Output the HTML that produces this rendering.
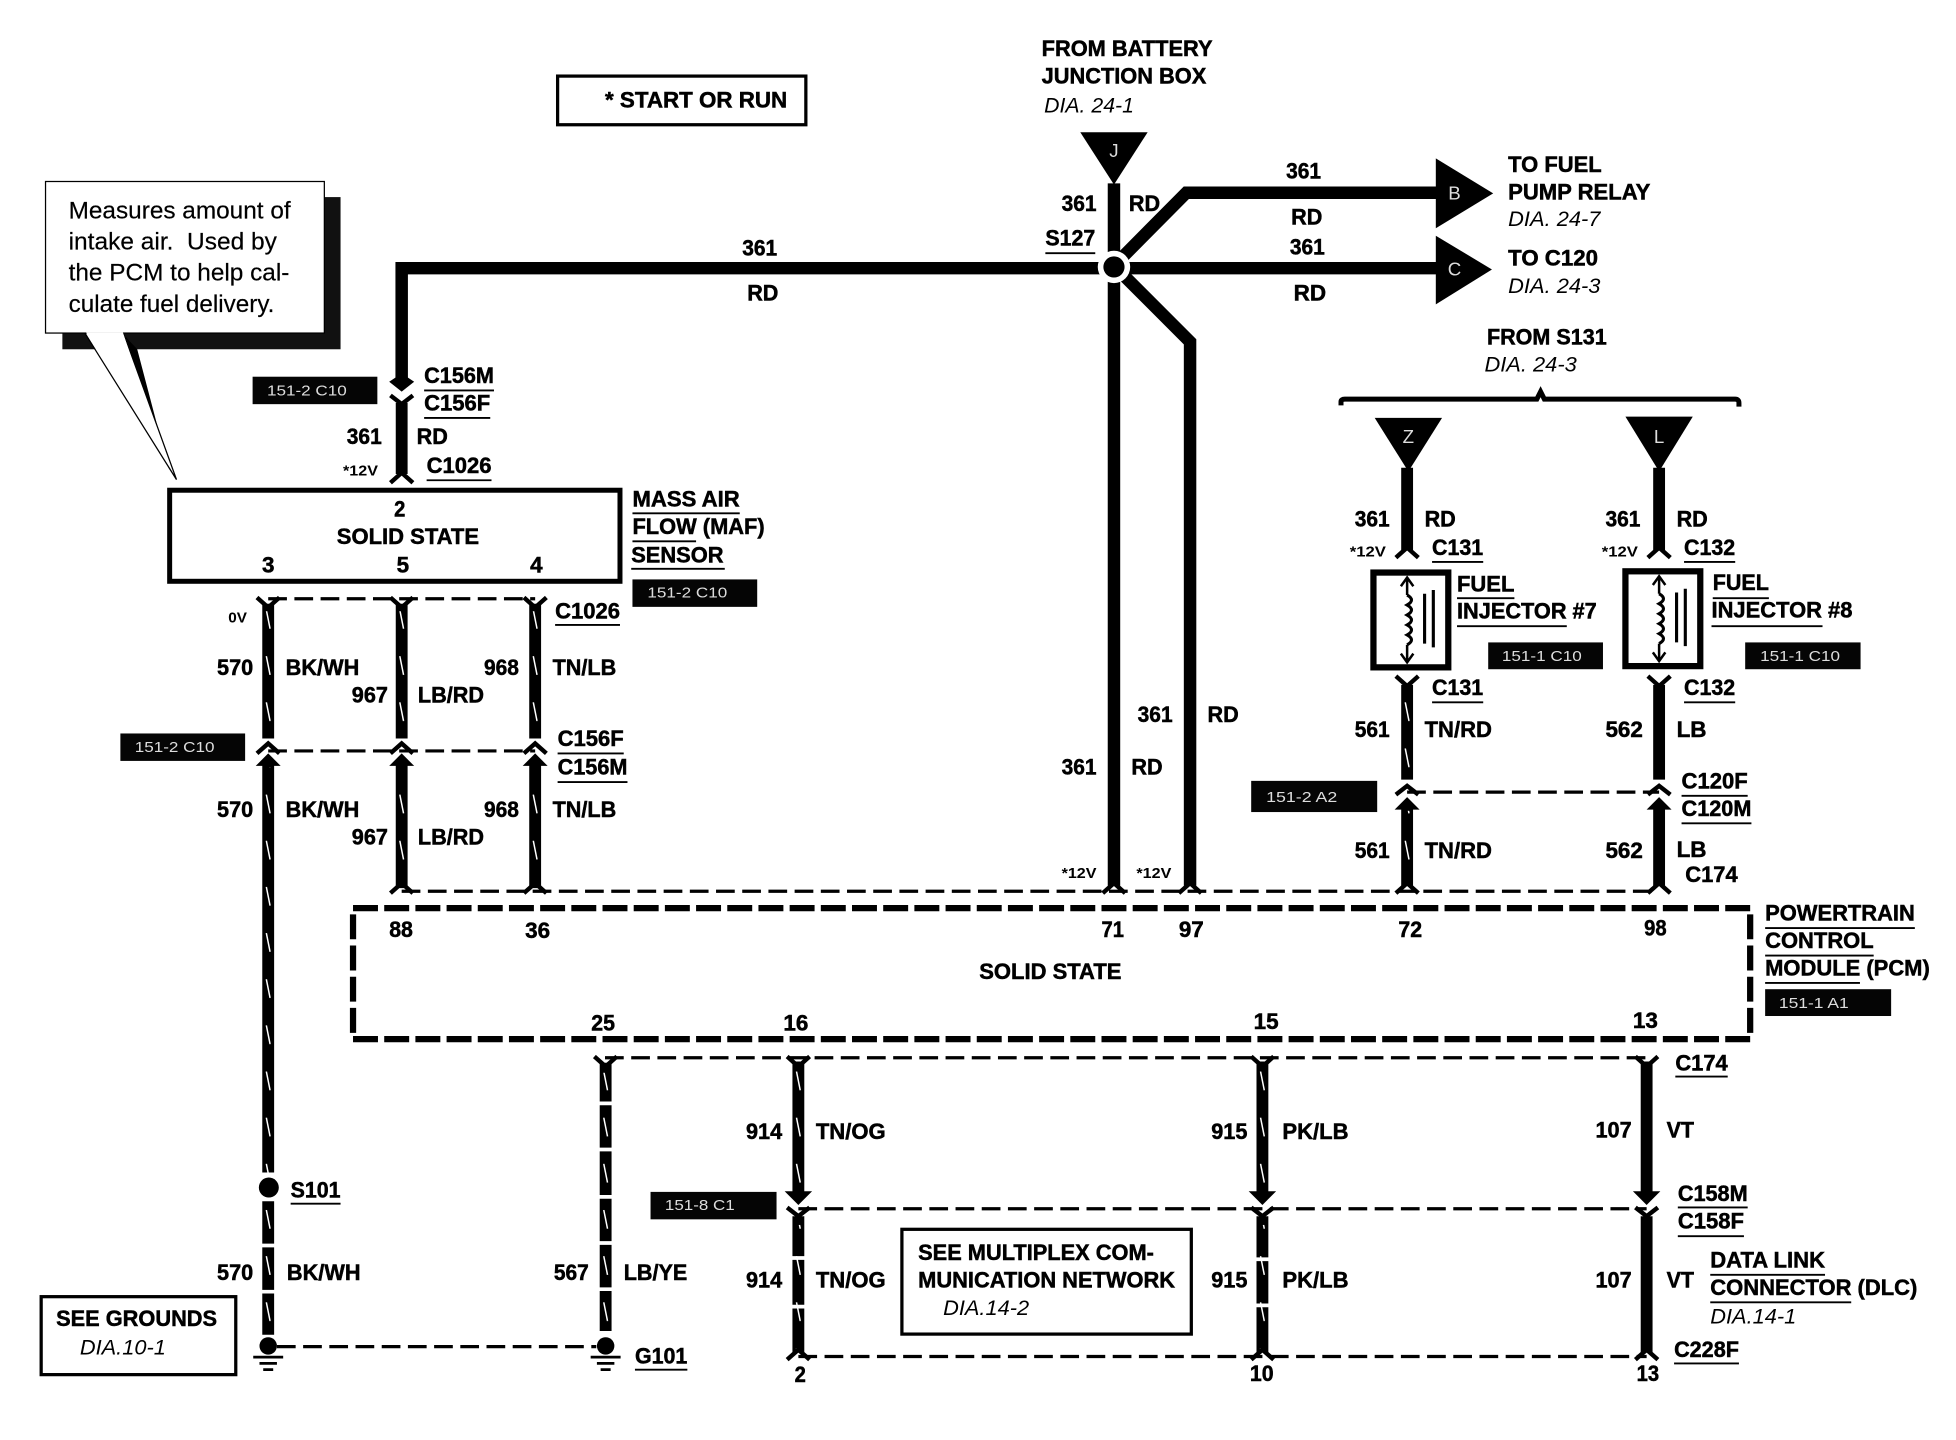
<!DOCTYPE html>
<html><head><meta charset="utf-8"><title>Wiring diagram</title>
<style>
html,body{margin:0;padding:0;background:#fff;width:1956px;height:1440px;overflow:hidden}
svg{display:block}
text{font-family:"Liberation Sans",sans-serif;fill:#000}
.b{font-weight:700;font-size:17.5px;stroke:#000;stroke-width:.4}
.i{font-style:italic;font-size:17px}
.s{font-weight:700;font-size:12px}
.n{font-size:19.5px;stroke:#000;stroke-width:.15}
.g{fill:#ddd;font-size:12px}
.w{fill:#ddd;font-size:15px;text-anchor:middle}
.u{stroke:#000;stroke-width:1.5;fill:none}
.wr{stroke:#000;stroke-width:9.5;fill:none}
.d{stroke:#000;stroke-width:2.6;fill:none;stroke-dasharray:15 6}
</style></head><body>
<svg width="1956" height="1440" viewBox="0 0 1568 1154.4" preserveAspectRatio="none" xmlns="http://www.w3.org/2000/svg">
<defs>
<path id="yT" d="M-9,-3 L0,5 L9,-3" fill="none" stroke="#000" stroke-width="3.5"/>
<path id="yB" d="M-9,3 L0,-5 L9,3" fill="none" stroke="#000" stroke-width="3.5"/>
<g id="con"><polygon points="-10,-10 0,-2 10,-10 4,-14 -4,-14" fill="#000"/><path d="M-9,1 L0,8 L9,1" fill="none" stroke="#000" stroke-width="3.5"/></g>
<g id="gnd"><circle cx="0" cy="0" r="7" fill="#000"/><path d="M-12,9 H12 M-7,14 H7 M-4,19 H4" stroke="#000" stroke-width="2.2" fill="none"/></g>
<g id="inj"><rect x="0" y="0" width="60" height="76" fill="#fff" stroke="#000" stroke-width="5"/>
<path d="M27,5 V18 M27,58 V72 M22,11 L27,4 L32,11 M22,65 L27,72 L32,65" fill="none" stroke="#000" stroke-width="2"/>
<path d="M27,18 q7,4 0,8 q7,4 0,8 q7,4 0,8 q7,4 0,8 q7,4 0,8" fill="none" stroke="#000" stroke-width="2.5"/>
<path d="M41,17 V57 M48,14 V60" stroke="#000" stroke-width="2.5" fill="none"/></g>
<pattern id="sl" patternUnits="userSpaceOnUse" x="0" y="8" width="1568" height="37">
<path d="M213.5,0 l3,15 M320.5,0 l3,15 M427.5,0 l3,15 M484,0 l3,15 M638.5,0 l3,15 M1010.5,0 l3,15 M1126.5,0 l3,15" stroke="#fff" stroke-width="1.2" fill="none"/>
</pattern>
</defs>
<rect width="1568" height="1155" fill="#fff"/>

<!-- START box -->
<rect x="447" y="61" width="199" height="39" fill="none" stroke="#000" stroke-width="2.6"/>
<text class="b" x="485" y="86" textLength="146" lengthAdjust="spacingAndGlyphs">* START OR RUN</text>

<!-- callout -->
<rect x="50" y="158" width="223" height="122" fill="#111"/>
<polygon points="98,267 110,280 135,375 141,384" fill="#000"/>
<polygon points="68,266 99,266 141,384" fill="#fff"/>
<path d="M68,267 L141.5,384.5 M99,267 L141.5,384.5" stroke="#000" stroke-width="1" fill="none"/>
<rect x="36.5" y="145.5" width="223.5" height="121.5" fill="#fff" stroke="#000" stroke-width="1"/>
<polygon points="69,266.5 98.5,266.5 120,330 105,320" fill="#fff"/>
<text class="n" x="55" y="175" textLength="178" lengthAdjust="spacingAndGlyphs">Measures amount of</text>
<text class="n" x="55" y="200" textLength="167" lengthAdjust="spacingAndGlyphs" xml:space="preserve">intake air.  Used by</text>
<text class="n" x="55" y="225" textLength="177" lengthAdjust="spacingAndGlyphs">the PCM to help cal-</text>
<text class="n" x="55" y="250" textLength="165" lengthAdjust="spacingAndGlyphs">culate fuel delivery.</text>

<!-- main thick wires -->
<path class="wr" d="M322,305 V215 H893" style="stroke-width:10"/>
<path class="wr" d="M893,147 V710" style="stroke-width:10"/>
<path class="wr" d="M893,213 L951,154.5 H1155" style="stroke-width:10"/>
<path class="wr" d="M893,215 H1155" style="stroke-width:10"/>
<path class="wr" d="M893,213 L954,274 V710" style="stroke-width:10"/>
<circle cx="893" cy="214" r="13" fill="#fff"/><circle cx="893" cy="214" r="8.5" fill="#000"/>
<polygon points="866,106 920,106 893,148" fill="#000"/>
<text class="w" x="893" y="126">J</text>
<polygon points="1151,127 1197,155 1151,183" fill="#000"/>
<text class="w" x="1166" y="160">B</text>
<polygon points="1151,189 1196,216 1151,244" fill="#000"/>
<text class="w" x="1166" y="221">C</text>
<use href="#yB" x="893" y="713"/><use href="#yB" x="954" y="713"/>

<!-- MAF -->
<use href="#con" x="322" y="316"/>
<path class="wr" d="M322,323 V380"/>
<use href="#yB" x="322" y="384"/>
<rect x="136" y="393" width="361" height="73" fill="#fff" stroke="#000" stroke-width="4"/>

<path class="d" d="M215,480 H429"/>
<path class="wr" d="M215,484 V592 M322,484 V592 M429,484 V592"/>
<g fill="url(#sl)"><rect x="210" y="490" width="10" height="102"/><rect x="317" y="490" width="10" height="102"/><rect x="424" y="490" width="10" height="102"/></g>
<use href="#yT" x="215" y="482"/><use href="#yT" x="322" y="482"/><use href="#yT" x="429" y="482"/>
<path class="d" d="M215,602 H429"/>
<g transform="translate(215,601)"><path d="M-9,3 L0,-5 L9,3" fill="none" stroke="#000" stroke-width="3.5"/></g>
<g transform="translate(322,601)"><path d="M-9,3 L0,-5 L9,3" fill="none" stroke="#000" stroke-width="3.5"/></g>
<g transform="translate(429,601)"><path d="M-9,3 L0,-5 L9,3" fill="none" stroke="#000" stroke-width="3.5"/></g>
<polygon points="215,604 205,614 225,614" fill="#000"/><polygon points="322,604 312,614 332,614" fill="#000"/><polygon points="429,604 419,614 439,614" fill="#000"/>
<path class="wr" d="M215,610 V940 M322,610 V712 M429,610 V712"/>
<g fill="url(#sl)"><rect x="210" y="615" width="10" height="325"/><rect x="317" y="620" width="10" height="90"/><rect x="424" y="620" width="10" height="90"/></g>
<use href="#yB" x="322" y="713"/><use href="#yB" x="429" y="713"/>

<circle cx="215.5" cy="952" r="8" fill="#000"/>
<path class="wr" d="M215,963 V997 M215,1000 V1034 M215,1037 V1070"/>
<rect x="210" y="967" width="10" height="103" fill="url(#sl)"/>
<use href="#gnd" x="215" y="1079"/>
<path class="d" d="M222,1079.5 H478"/>
<path class="wr" d="M485.5,852 V883 M485.5,886 V920 M485.5,923 V958 M485.5,961 V995 M485.5,998 V1032 M485.5,1035 V1067"/>
<rect x="480" y="860" width="11" height="205" fill="url(#sl)"/>
<use href="#yT" x="485.5" y="850"/>
<use href="#gnd" x="485.5" y="1079"/>

<!-- PCM box -->
<rect x="283" y="728" width="1120" height="105" fill="none" stroke="#000" stroke-width="5" stroke-dasharray="20 5"/>
<path class="d" d="M322,714.5 H1330"/>
<path class="d" d="M485,848 H1320"/>
<path class="d" d="M640,969 H1320"/>
<path class="d" d="M640,1087.5 H1320"/>
<path class="d" d="M1128,635 H1330"/>

<!-- lower wires -->
<path class="wr" d="M640,851 V957 M1012,851 V957 M1320,851 V957"/>
<g fill="url(#sl)"><rect x="635" y="858" width="10" height="97"/><rect x="1007" y="858" width="10" height="97"/></g>
<use href="#yT" x="640" y="850"/><use href="#yT" x="1012" y="850"/><use href="#yT" x="1320" y="850"/>
<polygon points="640,966 629,955 651,955" fill="#000"/><polygon points="1012,966 1001,955 1023,955" fill="#000"/><polygon points="1320,966 1309,955 1331,955" fill="#000"/>
<path d="M631,968 L640,975 L649,968 M1003,968 L1012,975 L1021,968 M1311,968 L1320,975 L1329,968" fill="none" stroke="#000" stroke-width="3.5"/>
<path class="wr" d="M640,975 V1007 M640,1010 V1046 M640,1049 V1084 M1012,975 V1008 M1012,1011 V1045 M1012,1048 V1084 M1320,975 V1084"/>
<g fill="url(#sl)"><rect x="635" y="982" width="10" height="100"/><rect x="1007" y="982" width="10" height="100"/></g>
<use href="#yB" x="640" y="1087"/><use href="#yB" x="1012" y="1087"/><use href="#yB" x="1320" y="1087"/>

<!-- injector side -->
<path d="M1075,325 V322 Q1075,320 1078,320 H1232 L1235,314 L1238,320 H1391 Q1394,320 1394,323 V326" fill="none" stroke="#000" stroke-width="4"/>
<polygon points="1102,335 1156,335 1129,378" fill="#000"/>
<text class="w" x="1129" y="355">Z</text>
<polygon points="1303,334 1357,334 1330,378" fill="#000"/>
<text class="w" x="1330" y="355">L</text>
<path class="wr" d="M1128,375 V441 M1330,375 V441"/>
<use href="#yB" x="1128" y="444"/><use href="#yB" x="1330" y="444"/>
<use href="#inj" x="1101" y="459"/>
<use href="#inj" x="1303" y="458"/>
<use href="#yT" x="1128" y="545"/><use href="#yT" x="1330" y="545"/>
<path class="wr" d="M1128,549 V625 M1330,549 V625"/>
<rect x="1123" y="560" width="10" height="65" fill="url(#sl)"/>
<path d="M1119,637 L1128,630 L1137,637 M1321,637 L1330,630 L1339,637" fill="none" stroke="#000" stroke-width="3.5"/>
<polygon points="1128,639 1118,649 1138,649" fill="#000"/><polygon points="1330,639 1320,649 1340,649" fill="#000"/>
<path class="wr" d="M1128,645 V710 M1330,645 V710"/>
<rect x="1123" y="650" width="10" height="58" fill="url(#sl)"/>
<use href="#yB" x="1128" y="713"/><use href="#yB" x="1330" y="713"/>

<!-- black tags -->
<g fill="#050505">
<rect x="202.5" y="302" width="100" height="22"/>
<rect x="507" y="464.5" width="100" height="22"/>
<rect x="96.5" y="588" width="100" height="22"/>
<rect x="521.5" y="955.5" width="101" height="22"/>
<rect x="1003" y="626" width="101" height="25"/>
<rect x="1193" y="515" width="92" height="21.5"/>
<rect x="1399" y="515" width="92.5" height="21.5"/>
<rect x="1415" y="793" width="101" height="21.5"/>
</g>
<text class="g" x="214" y="317" textLength="64" lengthAdjust="spacingAndGlyphs">151-2 C10</text>
<text class="g" x="519" y="479" textLength="64" lengthAdjust="spacingAndGlyphs">151-2 C10</text>
<text class="g" x="108" y="603" textLength="64" lengthAdjust="spacingAndGlyphs">151-2 C10</text>
<text class="g" x="533" y="970" textLength="56" lengthAdjust="spacingAndGlyphs">151-8 C1</text>
<text class="g" x="1015" y="643" textLength="57" lengthAdjust="spacingAndGlyphs">151-2 A2</text>
<text class="g" x="1204" y="530" textLength="64" lengthAdjust="spacingAndGlyphs">151-1 C10</text>
<text class="g" x="1411" y="530" textLength="64" lengthAdjust="spacingAndGlyphs">151-1 C10</text>
<text class="g" x="1426" y="808" textLength="56" lengthAdjust="spacingAndGlyphs">151-1 A1</text>

<!-- underlines -->
<path class="u" d="M340,313 H396 M340,335 H393 M342,385 H394 M507,411.5 H593 M507,434 H558 M506,456 H581 M445,501 H497 M447,604 H500 M447,627 H503 M838,203 H878 M1148,450.5 H1189 M1350,450.5 H1391 M1168,479.5 H1214 M1168,502 H1256 M1373,479.5 H1418 M1372,502 H1461 M1148,563 H1189 M1350,563 H1391 M1348,638 H1401 M1348,660 H1404 M1415,744 H1535 M1415,766 H1502 M1415,788 H1491 M1343,863 H1385 M1345,968 H1401 M1345,991 H1398 M1371,1022 H1463 M1371,1044 H1484 M1342,1093 H1394 M233,965 H273 M509,1098 H551"/>

<!-- labels -->
<text class="b" x="835" y="45" textLength="137" lengthAdjust="spacingAndGlyphs">FROM BATTERY</text>
<text class="b" x="835" y="67" textLength="132" lengthAdjust="spacingAndGlyphs">JUNCTION BOX</text>
<text class="i" x="837" y="90" textLength="72" lengthAdjust="spacingAndGlyphs">DIA. 24-1</text>
<text class="b" x="1209" y="138" textLength="75" lengthAdjust="spacingAndGlyphs">TO FUEL</text>
<text class="b" x="1209" y="160" textLength="114" lengthAdjust="spacingAndGlyphs">PUMP RELAY</text>
<text class="i" x="1209" y="181" textLength="74" lengthAdjust="spacingAndGlyphs">DIA. 24-7</text>
<text class="b" x="1209" y="213" textLength="72" lengthAdjust="spacingAndGlyphs">TO C120</text>
<text class="i" x="1209" y="235" textLength="74" lengthAdjust="spacingAndGlyphs">DIA. 24-3</text>
<text class="b" x="1031" y="143" textLength="28" lengthAdjust="spacingAndGlyphs">361</text>
<text class="b" x="1035" y="180" textLength="25" lengthAdjust="spacingAndGlyphs">RD</text>
<text class="b" x="1034" y="204" textLength="28" lengthAdjust="spacingAndGlyphs">361</text>
<text class="b" x="1037" y="241" textLength="26" lengthAdjust="spacingAndGlyphs">RD</text>
<text class="b" x="595" y="205" textLength="28" lengthAdjust="spacingAndGlyphs">361</text>
<text class="b" x="599" y="241" textLength="25" lengthAdjust="spacingAndGlyphs">RD</text>
<text class="b" x="851" y="169" textLength="28" lengthAdjust="spacingAndGlyphs">361</text>
<text class="b" x="905" y="169" textLength="25" lengthAdjust="spacingAndGlyphs">RD</text>
<text class="b" x="838" y="197" textLength="40" lengthAdjust="spacingAndGlyphs">S127</text>
<text class="b" x="1192" y="276" textLength="96" lengthAdjust="spacingAndGlyphs">FROM S131</text>
<text class="i" x="1190" y="298" textLength="74" lengthAdjust="spacingAndGlyphs">DIA. 24-3</text>

<text class="b" x="340" y="307" textLength="56" lengthAdjust="spacingAndGlyphs">C156M</text>
<text class="b" x="340" y="329" textLength="53" lengthAdjust="spacingAndGlyphs">C156F</text>
<text class="b" x="278" y="356" textLength="28" lengthAdjust="spacingAndGlyphs">361</text>
<text class="b" x="334" y="356" textLength="25" lengthAdjust="spacingAndGlyphs">RD</text>
<text class="s" x="275" y="381" textLength="28" lengthAdjust="spacingAndGlyphs">*12V</text>
<text class="b" x="342" y="379" textLength="52" lengthAdjust="spacingAndGlyphs">C1026</text>
<text class="b" x="316" y="414" textLength="9" lengthAdjust="spacingAndGlyphs">2</text>
<text class="b" x="270" y="436" textLength="114" lengthAdjust="spacingAndGlyphs">SOLID STATE</text>
<text class="b" x="210" y="459" textLength="10" lengthAdjust="spacingAndGlyphs">3</text>
<text class="b" x="318" y="459" textLength="10" lengthAdjust="spacingAndGlyphs">5</text>
<text class="b" x="425" y="459" textLength="10" lengthAdjust="spacingAndGlyphs">4</text>
<text class="b" x="507" y="406" textLength="86" lengthAdjust="spacingAndGlyphs">MASS AIR</text>
<text class="b" x="507" y="428" textLength="106" lengthAdjust="spacingAndGlyphs">FLOW (MAF)</text>
<text class="b" x="506" y="451" textLength="74" lengthAdjust="spacingAndGlyphs">SENSOR</text>
<text class="b" x="445" y="496" textLength="52" lengthAdjust="spacingAndGlyphs">C1026</text>
<text class="s" x="183" y="499" textLength="15" lengthAdjust="spacingAndGlyphs">0V</text>

<text class="b" x="174" y="541" textLength="29" lengthAdjust="spacingAndGlyphs">570</text>
<text class="b" x="229" y="541" textLength="59" lengthAdjust="spacingAndGlyphs">BK/WH</text>
<text class="b" x="388" y="541" textLength="28" lengthAdjust="spacingAndGlyphs">968</text>
<text class="b" x="443" y="541" textLength="51" lengthAdjust="spacingAndGlyphs">TN/LB</text>
<text class="b" x="282" y="563" textLength="29" lengthAdjust="spacingAndGlyphs">967</text>
<text class="b" x="335" y="563" textLength="53" lengthAdjust="spacingAndGlyphs">LB/RD</text>
<text class="b" x="447" y="598" textLength="53" lengthAdjust="spacingAndGlyphs">C156F</text>
<text class="b" x="447" y="621" textLength="56" lengthAdjust="spacingAndGlyphs">C156M</text>
<text class="b" x="174" y="655" textLength="29" lengthAdjust="spacingAndGlyphs">570</text>
<text class="b" x="229" y="655" textLength="59" lengthAdjust="spacingAndGlyphs">BK/WH</text>
<text class="b" x="388" y="655" textLength="28" lengthAdjust="spacingAndGlyphs">968</text>
<text class="b" x="443" y="655" textLength="51" lengthAdjust="spacingAndGlyphs">TN/LB</text>
<text class="b" x="282" y="677" textLength="29" lengthAdjust="spacingAndGlyphs">967</text>
<text class="b" x="335" y="677" textLength="53" lengthAdjust="spacingAndGlyphs">LB/RD</text>

<text class="b" x="912" y="579" textLength="28" lengthAdjust="spacingAndGlyphs">361</text>
<text class="b" x="968" y="579" textLength="25" lengthAdjust="spacingAndGlyphs">RD</text>
<text class="b" x="851" y="621" textLength="28" lengthAdjust="spacingAndGlyphs">361</text>
<text class="b" x="907" y="621" textLength="25" lengthAdjust="spacingAndGlyphs">RD</text>
<text class="s" x="851" y="704" textLength="28" lengthAdjust="spacingAndGlyphs">*12V</text>
<text class="s" x="911" y="704" textLength="28" lengthAdjust="spacingAndGlyphs">*12V</text>

<text class="b" x="1086" y="422" textLength="28" lengthAdjust="spacingAndGlyphs">361</text>
<text class="b" x="1142" y="422" textLength="25" lengthAdjust="spacingAndGlyphs">RD</text>
<text class="s" x="1082" y="446" textLength="29" lengthAdjust="spacingAndGlyphs">*12V</text>
<text class="b" x="1148" y="445" textLength="41" lengthAdjust="spacingAndGlyphs">C131</text>
<text class="b" x="1287" y="422" textLength="28" lengthAdjust="spacingAndGlyphs">361</text>
<text class="b" x="1344" y="422" textLength="25" lengthAdjust="spacingAndGlyphs">RD</text>
<text class="s" x="1284" y="446" textLength="29" lengthAdjust="spacingAndGlyphs">*12V</text>
<text class="b" x="1350" y="445" textLength="41" lengthAdjust="spacingAndGlyphs">C132</text>
<text class="b" x="1168" y="474" textLength="46" lengthAdjust="spacingAndGlyphs">FUEL</text>
<text class="b" x="1168" y="496" textLength="112" lengthAdjust="spacingAndGlyphs">INJECTOR #7</text>
<text class="b" x="1373" y="473" textLength="45" lengthAdjust="spacingAndGlyphs">FUEL</text>
<text class="b" x="1372" y="495" textLength="113" lengthAdjust="spacingAndGlyphs">INJECTOR #8</text>
<text class="b" x="1148" y="557" textLength="41" lengthAdjust="spacingAndGlyphs">C131</text>
<text class="b" x="1350" y="557" textLength="41" lengthAdjust="spacingAndGlyphs">C132</text>
<text class="b" x="1086" y="591" textLength="28" lengthAdjust="spacingAndGlyphs">561</text>
<text class="b" x="1142" y="591" textLength="54" lengthAdjust="spacingAndGlyphs">TN/RD</text>
<text class="b" x="1287" y="591" textLength="30" lengthAdjust="spacingAndGlyphs">562</text>
<text class="b" x="1344" y="591" textLength="24" lengthAdjust="spacingAndGlyphs">LB</text>
<text class="b" x="1348" y="632" textLength="53" lengthAdjust="spacingAndGlyphs">C120F</text>
<text class="b" x="1348" y="654" textLength="56" lengthAdjust="spacingAndGlyphs">C120M</text>
<text class="b" x="1086" y="688" textLength="28" lengthAdjust="spacingAndGlyphs">561</text>
<text class="b" x="1142" y="688" textLength="54" lengthAdjust="spacingAndGlyphs">TN/RD</text>
<text class="b" x="1287" y="688" textLength="30" lengthAdjust="spacingAndGlyphs">562</text>
<text class="b" x="1344" y="687" textLength="24" lengthAdjust="spacingAndGlyphs">LB</text>
<text class="b" x="1351" y="707" textLength="42" lengthAdjust="spacingAndGlyphs">C174</text>

<text class="b" x="1415" y="738" textLength="120" lengthAdjust="spacingAndGlyphs">POWERTRAIN</text>
<text class="b" x="1415" y="760" textLength="87" lengthAdjust="spacingAndGlyphs">CONTROL</text>
<text class="b" x="1415" y="782" textLength="132" lengthAdjust="spacingAndGlyphs">MODULE (PCM)</text>

<text class="b" x="312" y="751" textLength="19" lengthAdjust="spacingAndGlyphs">88</text>
<text class="b" x="421" y="752" textLength="20" lengthAdjust="spacingAndGlyphs">36</text>
<text class="b" x="883" y="751" textLength="18" lengthAdjust="spacingAndGlyphs">71</text>
<text class="b" x="945" y="751" textLength="20" lengthAdjust="spacingAndGlyphs">97</text>
<text class="b" x="1121" y="751" textLength="19" lengthAdjust="spacingAndGlyphs">72</text>
<text class="b" x="1318" y="750" textLength="18" lengthAdjust="spacingAndGlyphs">98</text>
<text class="b" x="785" y="785" textLength="114" lengthAdjust="spacingAndGlyphs">SOLID STATE</text>
<text class="b" x="474" y="826" textLength="19" lengthAdjust="spacingAndGlyphs">25</text>
<text class="b" x="628" y="826" textLength="20" lengthAdjust="spacingAndGlyphs">16</text>
<text class="b" x="1005" y="825" textLength="20" lengthAdjust="spacingAndGlyphs">15</text>
<text class="b" x="1309" y="824" textLength="20" lengthAdjust="spacingAndGlyphs">13</text>

<text class="b" x="1343" y="858" textLength="42" lengthAdjust="spacingAndGlyphs">C174</text>
<text class="b" x="598" y="913" textLength="29" lengthAdjust="spacingAndGlyphs">914</text>
<text class="b" x="654" y="913" textLength="56" lengthAdjust="spacingAndGlyphs">TN/OG</text>
<text class="b" x="971" y="913" textLength="29" lengthAdjust="spacingAndGlyphs">915</text>
<text class="b" x="1028" y="913" textLength="53" lengthAdjust="spacingAndGlyphs">PK/LB</text>
<text class="b" x="1279" y="912" textLength="29" lengthAdjust="spacingAndGlyphs">107</text>
<text class="b" x="1336" y="912" textLength="22" lengthAdjust="spacingAndGlyphs">VT</text>
<text class="b" x="1345" y="963" textLength="56" lengthAdjust="spacingAndGlyphs">C158M</text>
<text class="b" x="1345" y="985" textLength="53" lengthAdjust="spacingAndGlyphs">C158F</text>
<text class="b" x="598" y="1032" textLength="29" lengthAdjust="spacingAndGlyphs">914</text>
<text class="b" x="654" y="1032" textLength="56" lengthAdjust="spacingAndGlyphs">TN/OG</text>
<text class="b" x="971" y="1032" textLength="29" lengthAdjust="spacingAndGlyphs">915</text>
<text class="b" x="1028" y="1032" textLength="53" lengthAdjust="spacingAndGlyphs">PK/LB</text>
<text class="b" x="1279" y="1032" textLength="29" lengthAdjust="spacingAndGlyphs">107</text>
<text class="b" x="1336" y="1032" textLength="22" lengthAdjust="spacingAndGlyphs">VT</text>
<text class="b" x="1371" y="1016" textLength="92" lengthAdjust="spacingAndGlyphs">DATA LINK</text>
<text class="b" x="1371" y="1038" textLength="166" lengthAdjust="spacingAndGlyphs">CONNECTOR (DLC)</text>
<text class="i" x="1371" y="1061" textLength="69" lengthAdjust="spacingAndGlyphs">DIA.14-1</text>
<text class="b" x="1342" y="1088" textLength="52" lengthAdjust="spacingAndGlyphs">C228F</text>
<text class="b" x="637" y="1108" textLength="9" lengthAdjust="spacingAndGlyphs">2</text>
<text class="b" x="1002" y="1107" textLength="19" lengthAdjust="spacingAndGlyphs">10</text>
<text class="b" x="1312" y="1107" textLength="18" lengthAdjust="spacingAndGlyphs">13</text>

<text class="b" x="233" y="960" textLength="40" lengthAdjust="spacingAndGlyphs">S101</text>
<text class="b" x="174" y="1026" textLength="29" lengthAdjust="spacingAndGlyphs">570</text>
<text class="b" x="230" y="1026" textLength="59" lengthAdjust="spacingAndGlyphs">BK/WH</text>
<text class="b" x="444" y="1026" textLength="28" lengthAdjust="spacingAndGlyphs">567</text>
<text class="b" x="500" y="1026" textLength="51" lengthAdjust="spacingAndGlyphs">LB/YE</text>
<text class="b" x="509" y="1093" textLength="42" lengthAdjust="spacingAndGlyphs">G101</text>

<rect x="33" y="1039.5" width="156" height="62.5" fill="none" stroke="#000" stroke-width="2.6"/>
<text class="b" x="45" y="1063" textLength="129" lengthAdjust="spacingAndGlyphs">SEE GROUNDS</text>
<text class="i" x="64" y="1086" textLength="69" lengthAdjust="spacingAndGlyphs">DIA.10-1</text>

<rect x="723" y="985.5" width="232" height="84" fill="none" stroke="#000" stroke-width="2.6"/>
<text class="b" x="736" y="1010" textLength="189" lengthAdjust="spacingAndGlyphs">SEE MULTIPLEX COM-</text>
<text class="b" x="736" y="1032" textLength="206" lengthAdjust="spacingAndGlyphs">MUNICATION NETWORK</text>
<text class="i" x="756" y="1054" textLength="69" lengthAdjust="spacingAndGlyphs">DIA.14-2</text>
</svg>
</body></html>
